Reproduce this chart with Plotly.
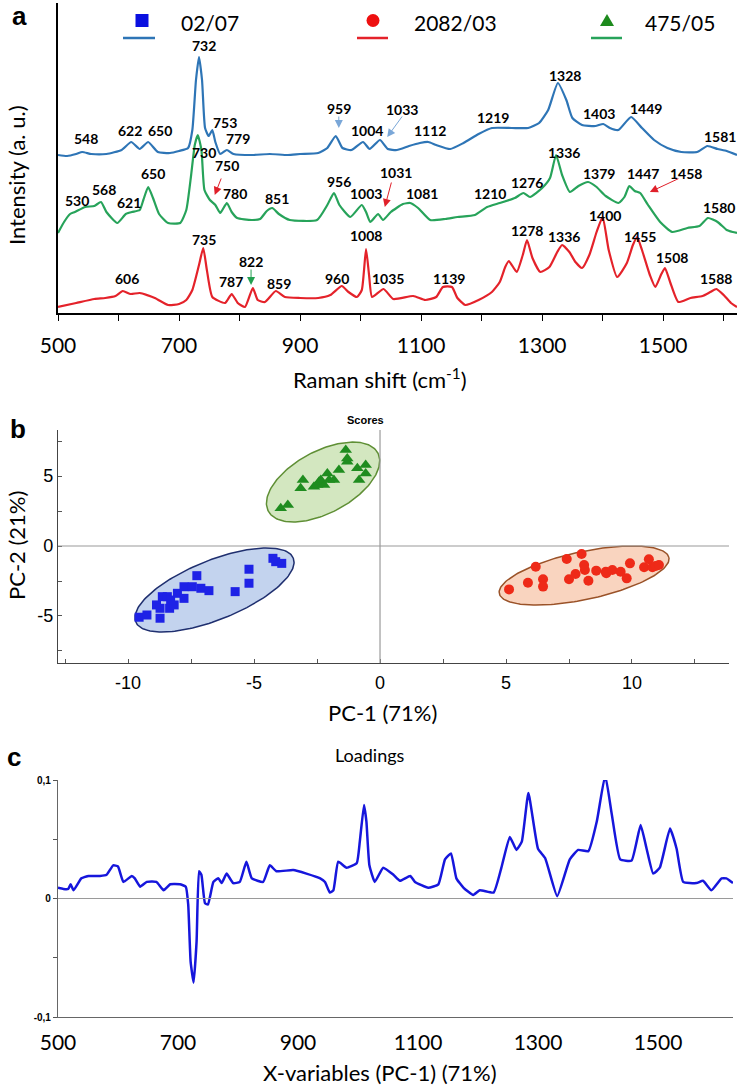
import numpy as np
import plotly.graph_objects as go

W, H = 742, 1088

# ---------------- Panel a: Raman spectra (intensity in a.u.) ----------------
blue_x = [500,515,530,540,555,580,605,621,635,649,665,685,700,715,722,728,733,738,743,749,755,760,768,779,790,820,850,880,900,930,945,959,970,985,1004,1015,1032,1045,1060,1080,1098,1112,1125,1148,1170,1195,1217,1250,1277,1295,1310,1326,1340,1350,1366,1388,1401,1412,1426,1447,1465,1485,1507,1530,1556,1573,1590,1605,1622]
blue_y = [158,157,159,161,159,159,163,171,164,171,161,160,162,165,183,233,256,233,185,177,183,171,159,163,159,158,159,158,159,160,165,177,165,163,171,164,173,164,163,167,170,171,168,164,170,179,185,185,185,190,203,230,213,195,188,187,189,185,183,196,185,173,165,161,161,167,164,162,158]

green_x = [500,510,520,528,545,560,571,580,598,612,622,635,641,649,657,667,682,702,712,720,726,731,737,742,751,760,768,779,787,796,820,834,845,854,865,883,928,945,956,965,983,1002,1009,1016,1029,1037,1050,1070,1082,1095,1115,1140,1160,1189,1209,1230,1255,1269,1280,1300,1313,1323,1333,1346,1360,1376,1390,1405,1426,1436,1444,1453,1462,1475,1495,1515,1540,1560,1574,1590,1605,1615,1622]
green_y = [80,91,99,101,106,107,111,101,90,99,101,103,113,126,115,99,90,90,103,138,168,178,163,123,113,108,100,110,101,95,93,94,102,105,99,93,93,108,120,108,96,108,101,91,99,93,101,109,110,105,93,94,96,98,106,110,115,120,116,125,135,158,138,121,127,131,126,117,110,116,127,122,120,108,91,81,85,87,95,91,83,81,80]

red_x = [500,530,560,578,595,607,620,635,660,682,700,712,722,733,740,746,755,776,787,797,809,822,830,842,860,875,900,930,950,969,980,994,1002,1009,1014,1019,1038,1054,1087,1107,1125,1136,1151,1160,1173,1195,1217,1230,1239,1245,1258,1268,1275,1284,1297,1312,1325,1333,1345,1355,1366,1378,1390,1400,1410,1424,1440,1450,1457,1465,1478,1487,1497,1503,1512,1525,1545,1565,1578,1588,1600,1612,1622]
red_y = [6,10,14,15,17,22,19,20,15,8,9,13,23,48,65,43,16,10,19,10,6,25,13,11,22,16,15,15,18,27,21,16,23,64,38,16,24,14,17,13,16,26,26,15,8,13,21,31,46,52,41,58,73,55,41,46,61,68,61,51,45,58,81,96,63,36,50,68,76,63,38,26,39,45,30,11,15,17,21,24,18,10,6]

raman_ticks = [500,600,700,800,900,1000,1100,1200,1300,1400,1500,1600]
raman_ticktext = ["500","","700","","900","","1100","","1300","","1500",""]

legend_names = ["02/07", "2082/03", "475/05"]

blue_labels = [("732",741,268),("548",546,175),("622",619,183),("650",669,183),("753",776,191),
               ("779",798,175),("959",964,205),("1004",1011,183),("1033",1069,204),("1112",1115,183),
               ("1219",1219,196),("1328",1338,238),("1403",1394,200),("1449",1472,205),("1581",1594,177)]
green_labels = [("730",741,161),("750",779,148),("650",657,140),("530",531,113),("568",576,124),
                ("621",617,111),("780",793,120),("851",862,115),("956",964,132),("1003",1009,120),
                ("1031",1059,141),("1081",1102,120),("1210",1214,120),("1276",1275,131),("1336",1336,161),
                ("1379",1394,140),("1447",1467,140),("1458",1538,140),("1580",1593,106)]
red_labels = [("735",741,74),("822",819,52),("787",786,32),("859",865,30),("606",614,35),
              ("960",961,35),("1008",1009,78),("1035",1045,35),("1139",1146,35),("1278",1275,83),
              ("1336",1336,77),("1400",1404,98),("1455",1462,77),("1508",1515,56),("1588",1588,35)]

# arrows: head x (cm-1), head y (a.u.), tail offset (px), colour
arrows = [(964,185,0,-13,"#7aa7d8"),(1044,176,16,-22,"#7aa7d8"),(759,118,7,-18,"#e0202a"),
          (1040,106,7,-26,"#e0202a"),(1478,121,30,-14,"#e0202a"),(819,28,0,-17,"#22a050")]

# ---------------- Panel b: PCA scores ----------------
s0207_x = [-9.56,-9.25,-8.87,-8.73,-8.73,-8.35,-8.17,-8.64,-8.44,-8.31,-8.04,-7.78,-7.78,-7.45,-7.27,-7.11,-6.79,-5.75,-5.20,-5.20,-4.25,-4.14,-3.90]
s0207_y = [-5.09,-4.93,-4.21,-4.45,-5.16,-4.45,-4.21,-3.62,-3.62,-3.86,-3.38,-3.74,-2.91,-2.91,-2.12,-3.02,-3.19,-3.26,-1.66,-2.66,-0.88,-1.12,-1.24]
s2082_x = [5.12,5.87,6.18,6.47,6.47,7.41,7.50,7.76,8.00,8.10,8.13,8.27,8.58,8.96,8.98,9.22,9.55,9.79,9.92,10.48,10.67,10.81,10.94,11.07]
s2082_y = [-3.10,-2.62,-1.48,-2.38,-2.90,-0.93,-2.38,-2.00,-0.57,-1.36,-1.71,-2.48,-1.76,-1.84,-1.95,-1.71,-1.84,-2.31,-1.24,-1.52,-0.95,-1.52,-1.43,-1.36]
s475_x = [-3.94,-3.66,-3.15,-3.06,-2.62,-2.49,-2.42,-2.35,-2.22,-2.09,-2.02,-1.83,-1.63,-1.36,-1.30,-1.30,-0.90,-0.83,-0.57,-0.57]
s475_y = [2.69,2.93,4.12,4.71,4.24,4.36,4.59,4.71,4.36,5.19,4.71,4.71,5.43,6.86,6.26,6.02,5.55,4.71,5.79,5.19]

pc1_ticks = [-12.5,-10,-7.5,-5,-2.5,0,2.5,5,7.5,10,12.5]
pc1_text = ["","-10","","-5","","0","","5","","10",""]
pc2_ticks = [-7.5,-5,-2.5,0,2.5,5,7.5]
pc2_text = ["","-5","","0","","5",""]

# ---------------- Panel c: PC-1 loadings ----------------
load_x = [500,509,517,521,526,539,551,570,581,592,600,609,623,628,637,648,664,676,687,703,713,717,721,726,731,735,739,745,750,759,767,773,781,792,803,814,823,842,853,864,892,914,937,945,953,959,967,981,998,1003,1010,1014,1019,1028,1042,1059,1070,1087,1095,1117,1134,1145,1155,1164,1176,1192,1203,1226,1239,1253,1264,1273,1284,1300,1312,1332,1353,1367,1384,1398,1412,1423,1437,1456,1471,1481,1492,1503,1520,1531,1542,1564,1575,1589,1606,1614,1625]
load_y = [0.009,0.008,0.008,0.012,0.007,0.017,0.019,0.019,0.020,0.028,0.027,0.014,0.019,0.017,0.010,0.014,0.014,0.007,0.012,0.012,0.010,-0.005,-0.053,-0.071,-0.036,0.023,0.020,-0.004,-0.005,0.014,0.017,0.013,0.021,0.013,0.014,0.031,0.017,0.014,0.028,0.023,0.024,0.021,0.017,0.014,0.005,0.007,0.031,0.026,0.030,0.048,0.079,0.065,0.028,0.014,0.026,0.020,0.015,0.019,0.014,0.009,0.012,0.033,0.038,0.017,0.009,0.003,0.007,0.005,0.026,0.052,0.041,0.048,0.089,0.042,0.034,0.002,0.033,0.041,0.040,0.065,0.104,0.071,0.033,0.032,0.062,0.042,0.021,0.026,0.059,0.042,0.014,0.013,0.015,0.007,0.017,0.017,0.013]
load_ticks = [-0.1,-0.05,0,0.05,0.1]
load_text = ["-0,1","","0","","0,1"]
load_xticks = [500,700,900,1100,1300,1500]

# ---------------- styling ----------------
C_BLUE = "#2e75b6"
C_GREEN = "#27a35a"
C_RED = "#e4222a"
FONT = "Lato"
ARIAL = "Liberation Sans"

def py(p):  # pixel row -> paper y
    return 1 - p / H

def pxp(p):  # pixel column -> paper x
    return p / W

fig = go.Figure()

for xs, ys, col in [(blue_x, blue_y, C_BLUE), (green_x, green_y, C_GREEN), (red_x, red_y, C_RED)]:
    fig.add_trace(go.Scatter(x=xs, y=ys, mode="lines", line=dict(color=col, width=2.2, shape="spline", smoothing=0.5),
                             xaxis="x", yaxis="y", showlegend=False, hoverinfo="skip", cliponaxis=False))

# panel b ellipses (outlines built from centre / semi-axes)
pxx = (729 - 58) / (13.85 + 12.78)
pxy = (663 - 430) / (8.29 + 8.36)
ellipses = [((-2.26, 4.57), 62, 31, 28, "rgba(175,212,140,0.55)", "#5f8f35"),
            ((-6.57, -3.14), 85, 29.6, 22, "rgba(185,203,235,0.85)", "#1f2f6f"),
            ((8.10, -2.11), 86.7, 23.9, 12, "rgba(248,205,180,0.85)", "#9a5228")]
t = np.linspace(0, 2 * np.pi, 181)
for (cx, cy), a, b, ang, fillc, linec in ellipses:
    th = np.deg2rad(ang)
    dx = a * np.cos(t) * np.cos(th) - b * np.sin(t) * np.sin(th)
    dy = a * np.cos(t) * np.sin(th) + b * np.sin(t) * np.cos(th)
    fig.add_trace(go.Scatter(x=cx + dx / pxx, y=cy + dy / pxy, mode="lines", fill="toself",
                             fillcolor=fillc, line=dict(color=linec, width=1.5),
                             xaxis="x2", yaxis="y2", showlegend=False, hoverinfo="skip"))

fig.add_trace(go.Scatter(x=s0207_x, y=s0207_y, mode="markers", marker=dict(symbol="square", size=9, color="#1e22e6"),
                         xaxis="x2", yaxis="y2", showlegend=False, name=legend_names[0]))
fig.add_trace(go.Scatter(x=s2082_x, y=s2082_y, mode="markers", marker=dict(symbol="circle", size=10, color="#ee2a18"),
                         xaxis="x2", yaxis="y2", showlegend=False, name=legend_names[1]))
fig.add_trace(go.Scatter(x=s475_x, y=s475_y, mode="markers", marker=dict(symbol="triangle-up", size=11, color="#1f8c1f"),
                         xaxis="x2", yaxis="y2", showlegend=False, name=legend_names[2]))

fig.add_trace(go.Scatter(x=load_x, y=load_y, mode="lines", line=dict(color="#1616dc", width=2.5, shape="spline", smoothing=0.4),
                         xaxis="x3", yaxis="y3", showlegend=False, hoverinfo="skip"))

ann = []
shapes = []

for lst in (blue_labels, green_labels, red_labels):
    for txt, xv, yv in lst:
        ann.append(dict(text=txt, x=xv, y=yv, xref="x", yref="y", showarrow=False,
                        xanchor="center", yanchor="middle",
                        font=dict(family=FONT, size=14, color="black", weight="bold")))
for hx, hy, ax, ay, col in arrows:
    ann.append(dict(text="", x=hx, y=hy, xref="x", yref="y", ax=ax, ay=ay, showarrow=True,
                    arrowhead=2, arrowsize=1.6, arrowwidth=1, arrowcolor=col))

leg = [(legend_names[0], C_BLUE, "#0a10e0", "square", 142, 123, 155, 210),
       (legend_names[1], C_RED, "#ee1010", "circle", 373, 357, 388, 455),
       (legend_names[2], C_GREEN, "#1d8a1d", "triangle", 607, 591, 622, 680)]
for name, lc, mc, sym, mx, l0, l1, tx in leg:
    shapes.append(dict(type="line", xref="paper", yref="paper", x0=pxp(l0), x1=pxp(l1), y0=py(38), y1=py(38),
                       line=dict(color=lc, width=2.5)))
    if sym == "square":
        shapes.append(dict(type="rect", xref="paper", yref="paper", x0=pxp(mx - 6.5), x1=pxp(mx + 6.5),
                           y0=py(27), y1=py(14), fillcolor=mc, line=dict(width=0)))
    elif sym == "circle":
        shapes.append(dict(type="circle", xref="paper", yref="paper", x0=pxp(mx - 6.5), x1=pxp(mx + 6.5),
                           y0=py(27), y1=py(14), fillcolor=mc, line=dict(width=0)))
    else:
        shapes.append(dict(type="path", xref="paper", yref="paper",
                           path=f"M {pxp(mx-7)},{py(26)} L {pxp(mx+7)},{py(26)} L {pxp(mx)},{py(14)} Z",
                           fillcolor=mc, line=dict(width=0)))
    ann.append(dict(text=name, x=pxp(tx), y=py(23), xref="paper", yref="paper", showarrow=False,
                    xanchor="center", yanchor="middle",
                    font=dict(family=FONT, size=21, color="black")))

shapes.append(dict(type="line", xref="x2", yref="y2", x0=-12.78, x1=13.85, y0=0, y1=0, line=dict(color="#9a9a9a", width=1.2)))
shapes.append(dict(type="line", xref="x2", yref="y2", x0=0, x1=0, y0=-8.36, y1=8.29, line=dict(color="#9a9a9a", width=1.2)))
shapes.append(dict(type="line", xref="x3", yref="y3", x0=500, x1=1625, y0=0, y1=0, line=dict(color="#9a9a9a", width=1)))

def pann(text, x, y, size, family=FONT, angle=0):
    return dict(text=text, x=pxp(x), y=py(y), xref="paper", yref="paper", showarrow=False,
                xanchor="center", yanchor="middle", textangle=angle,
                font=dict(family=family, size=size, color="black"))

ann += [
    pann("<b>a</b>", 19, 16, 26, ARIAL),
    pann("<b>b</b>", 18, 429, 26, ARIAL),
    pann("<b>c</b>", 14, 757, 26, ARIAL),
    pann("Raman shift (cm<sup>-1</sup>)", 380, 378, 22),
    pann("Intensity (a. u.)", 16, 175, 22, FONT, -90),
    pann("<b>Scores</b>", 365, 420, 11, ARIAL),
    pann("PC-1 (71%)", 383, 712, 22),
    pann("PC-2 (21%)", 16, 546, 22, FONT, -90),
    pann("Loadings", 370, 755, 18),
    pann("X-variables (PC-1) (71%)", 380, 1072, 22),
]

common = dict(automargin=False, showgrid=False, zeroline=False)
fig.update_layout(
    template="none",
    width=W, height=H, margin=dict(l=0, r=0, t=0, b=0, pad=0),
    paper_bgcolor="white", plot_bgcolor="white",
    annotations=ann, shapes=shapes,
    xaxis=dict(domain=[pxp(58), pxp(737)], range=[500, 1622], tickvals=raman_ticks, ticktext=raman_ticktext,
               ticks="outside", ticklen=6, tickcolor="black", showline=True, linecolor="black", linewidth=1.5,
               ticklabelstandoff=7,
               anchor="y", tickfont=dict(family=FONT, size=21, color="black"), **common),
    yaxis=dict(domain=[py(313), py(3)], range=[0, 310], showline=True, linecolor="black", linewidth=1.5,
               showticklabels=False, ticks="", anchor="x", **common),
    xaxis2=dict(domain=[pxp(58), pxp(729)], range=[-12.78, 13.85], tickvals=pc1_ticks, ticktext=pc1_text,
                ticks="inside", ticklen=4, tickcolor="#555", showline=True, linecolor="#444", linewidth=1.2,
                ticklabelstandoff=3,
                anchor="y2", tickfont=dict(family=ARIAL, size=18, color="black"), **common),
    yaxis2=dict(domain=[py(663), py(430)], range=[-8.36, 8.29], tickvals=pc2_ticks, ticktext=pc2_text,
                ticks="inside", ticklen=4, tickcolor="#555", showline=True, linecolor="#444", linewidth=1.2,
                anchor="x2", tickfont=dict(family=ARIAL, size=18, color="black"), **common),
    xaxis3=dict(domain=[pxp(58), pxp(733)], range=[500, 1625], tickvals=load_xticks,
                ticks="", showline=True, linecolor="#666", linewidth=1.2,
                ticklabelstandoff=7,
                anchor="y3", tickfont=dict(family=FONT, size=21, color="black"), **common),
    yaxis3=dict(domain=[py(1017), py(780)], range=[-0.1, 0.1], tickvals=load_ticks, ticktext=load_text,
                ticks="outside", ticklen=4, tickcolor="#555", showline=True, linecolor="#666", linewidth=1.2,
                anchor="x3", tickfont=dict(family=ARIAL, size=10, color="black", weight="bold"), **common),
)

fig.write_html("out.html", config={"displayModeBar": False},
               post_script="document.body.style.margin='0px';document.body.style.padding='0px';")
